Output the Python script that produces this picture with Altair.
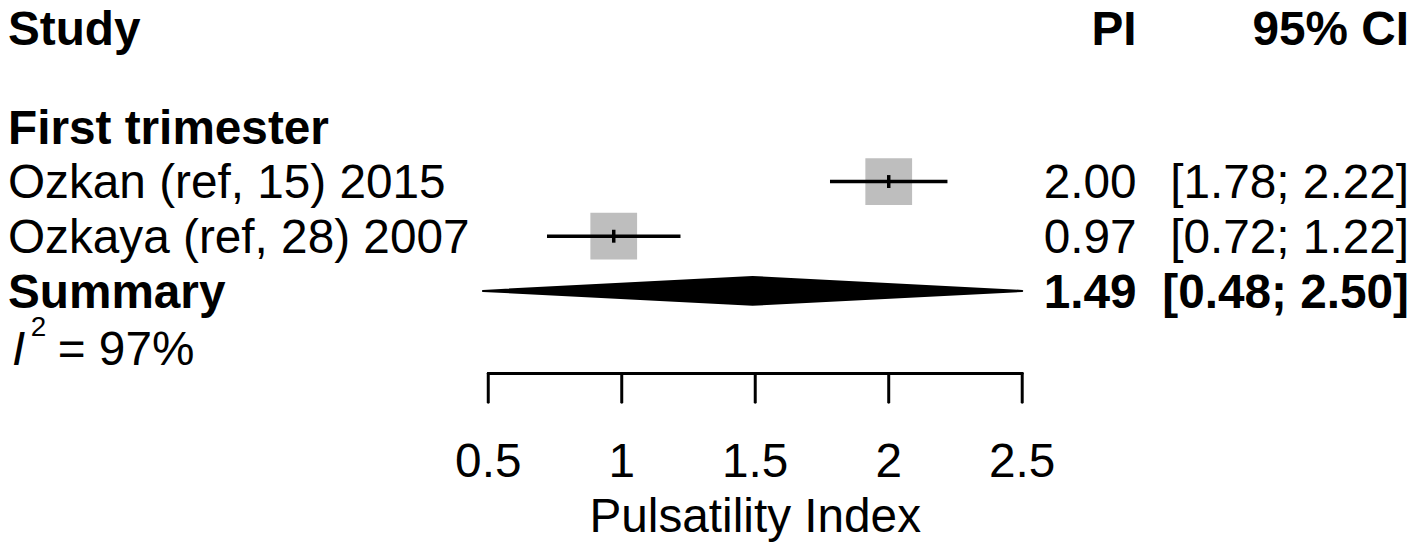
import altair as alt
import pandas as pd

# ---------------- data ----------------
studies = ["Ozkan (ref, 15) 2015", "Ozkaya (ref, 28) 2007"]
pi_values = [2.00, 0.97]
ci_lower = [1.78, 0.72]
ci_upper = [2.22, 1.22]
summary_label = "Summary"
summary_est = [1.49]
summary_lower = [0.48]
summary_upper = [2.50]
group_label = "First trimester"
heterogeneity = "= 97%"
tick_values = [0.5, 1, 1.5, 2, 2.5]
tick_labels = ["0.5", "1", "1.5", "2", "2.5"]
x_title = "Pulsatility Index"
header_study = "Study"
header_pi = "PI"
header_ci = "95% CI"

# ---------------- layout ----------------
W, H = 1410, 536
PX_AT_05 = 483.0      # plot px of value 0.5
PX_PER_UNIT = 268.5
ROW0_PX = 8.0
ROW_STEP = 55.0
FONT = "Liberation Sans"
FS = 48

xscale = alt.Scale(domain=[0.5 - PX_AT_05 / PX_PER_UNIT,
                           0.5 + (W - PX_AT_05) / PX_PER_UNIT], nice=False, zero=False)
yscale = alt.Scale(domain=[-ROW0_PX / ROW_STEP, (H - ROW0_PX) / ROW_STEP],
                   reverse=True, nice=False, zero=False)

first_row = 3
df = pd.DataFrame({
    "study": studies,
    "pi": pi_values,
    "lo": ci_lower,
    "hi": ci_upper,
    "row": [first_row + i for i in range(len(studies))],
})
df["pi_txt"] = [f"{v:.2f}" for v in df["pi"]]
df["ci_txt"] = [f"[{a:.2f}; {b:.2f}]" for a, b in zip(df["lo"], df["hi"])]

summary_row = first_row + len(studies)
half = 14.0 / ROW_STEP
df_sum = pd.DataFrame({
    "x": [summary_lower[0], summary_est[0], summary_upper[0]],
    "y_top": [summary_row, summary_row - half, summary_row],
    "y_bot": [summary_row, summary_row + half, summary_row],
})
df_sum_txt = pd.DataFrame({
    "label": [summary_label],
    "pi_txt": [f"{summary_est[0]:.2f}"],
    "ci_txt": [f"[{summary_lower[0]:.2f}; {summary_upper[0]:.2f}]"],
    "row": [summary_row],
})
df_group = pd.DataFrame({"label": [group_label], "row": [first_row - 1]})
df_ticks = pd.DataFrame({"v": tick_values, "lab": tick_labels})
df_axis = pd.DataFrame({"a": [min(tick_values)], "b": [max(tick_values)],
                        "mid": [(min(tick_values) + max(tick_values)) / 2],
                        "title": [x_title]})
df_head = pd.DataFrame({"study": [header_study], "pi": [header_pi], "ci": [header_ci]})
df_het = pd.DataFrame({"i": ["I"], "sup": ["2"], "rest": [heterogeneity]})

base_text = dict(font=FONT, fontSize=FS, baseline="alphabetic", color="black")
Y = lambda f: alt.Y(f, scale=yscale, axis=None)
X = lambda f: alt.X(f, scale=xscale, axis=None)

squares = alt.Chart(df).mark_square(size=47 * 47, color="#BEBEBE", opacity=1, filled=True).encode(
    x=X("pi:Q"), y=Y("row:Q"))
ci_lines = alt.Chart(df).mark_rule(color="black", strokeWidth=3.5).encode(
    x=X("lo:Q"), x2="hi:Q", y=Y("row:Q"))
centers = alt.Chart(df).mark_tick(orient="vertical", size=13, thickness=3.5, color="black", opacity=1).encode(
    x=X("pi:Q"), y=Y("row:Q"))

diamond = alt.Chart(df_sum).mark_area(color="black", orient="vertical", opacity=1,
                                      stroke="black", strokeWidth=2, strokeJoin="round").encode(
    x=X("x:Q"), y=Y("y_top:Q"), y2="y_bot:Q")

study_txt = alt.Chart(df).mark_text(align="left", dy=17, **base_text).encode(
    x=alt.value(0), y=Y("row:Q"), text="study:N")
pi_txt = alt.Chart(df).mark_text(align="right", dy=17, **base_text).encode(
    x=alt.value(1135), y=Y("row:Q"), text="pi_txt:N")
ci_txt = alt.Chart(df).mark_text(align="right", dy=17, **base_text).encode(
    x=alt.value(1409), y=Y("row:Q"), text="ci_txt:N")

sum_lab = alt.Chart(df_sum_txt).mark_text(align="left", dy=17, fontWeight="bold", **base_text).encode(
    x=alt.value(0), y=Y("row:Q"), text="label:N")
sum_pi = alt.Chart(df_sum_txt).mark_text(align="right", dy=17, fontWeight="bold", **base_text).encode(
    x=alt.value(1135), y=Y("row:Q"), text="pi_txt:N")
sum_ci = alt.Chart(df_sum_txt).mark_text(align="right", dy=17, fontWeight="bold", **base_text).encode(
    x=alt.value(1409), y=Y("row:Q"), text="ci_txt:N")

group_txt = alt.Chart(df_group).mark_text(align="left", dy=17, fontWeight="bold", **base_text).encode(
    x=alt.value(0), y=Y("row:Q"), text="label:N")

HEAD_Y = 36
head_study = alt.Chart(df_head).mark_text(align="left", fontWeight="bold", **base_text).encode(
    x=alt.value(0), y=alt.value(HEAD_Y), text="study:N")
head_pi = alt.Chart(df_head).mark_text(align="right", fontWeight="bold", **base_text).encode(
    x=alt.value(1135), y=alt.value(HEAD_Y), text="pi:N")
head_ci = alt.Chart(df_head).mark_text(align="right", fontWeight="bold", **base_text).encode(
    x=alt.value(1409), y=alt.value(HEAD_Y), text="ci:N")

het_i = alt.Chart(df_het).mark_text(align="left", fontStyle="italic", **base_text).encode(
    x=alt.value(4), y=alt.value(358), text="i:N")
het_sup = alt.Chart(df_het).mark_text(align="left", font=FONT, fontSize=28, baseline="alphabetic",
                                      color="black").encode(
    x=alt.value(23), y=alt.value(328), text="sup:N")
het_rest = alt.Chart(df_het).mark_text(align="left", **base_text).encode(
    x=alt.value(50), y=alt.value(358), text="rest:N")

axis_line = alt.Chart(df_axis).mark_rule(color="black", strokeWidth=3, strokeCap="round").encode(
    x=X("a:Q"), x2="b:Q", y=alt.value(366))
axis_ticks = alt.Chart(df_ticks).mark_rule(color="black", strokeWidth=3, strokeCap="round").encode(
    x=X("v:Q"), y=alt.value(366), y2=alt.value(395))
tick_txt = alt.Chart(df_ticks).mark_text(align="center", **base_text).encode(
    x=X("v:Q"), y=alt.value(470), text="lab:N")
title_txt = alt.Chart(df_axis).mark_text(align="center", **base_text).encode(
    x=X("mid:Q"), y=alt.value(525), text="title:N")

chart = alt.layer(
    squares, ci_lines, centers, diamond,
    study_txt, pi_txt, ci_txt, sum_lab, sum_pi, sum_ci, group_txt,
    head_study, head_pi, head_ci, het_i, het_sup, het_rest,
    axis_line, axis_ticks, tick_txt, title_txt,
).properties(
    width=W, height=H, autosize=alt.AutoSizeParams(type="none"), padding=0, background="white"
).configure_view(stroke=None)

chart.save("out.html", embed_options={"renderer": "svg", "actions": False})
